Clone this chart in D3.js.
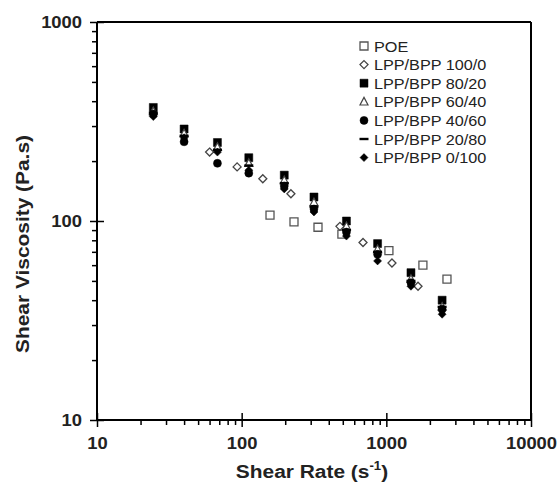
<!DOCTYPE html>
<html>
<head>
<meta charset="utf-8">
<script src="https://cdn.jsdelivr.net/npm/d3@7"></script>
<style>
  body { margin: 0; background: #fff; }
  svg { display: block; }
</style>
</head>
<body>
<div id="chart"></div>
<script>
// values (shear rate in 1/s, viscosity in Pa.s)
const poeRate = [157, 230, 337, 493, 1042, 1790, 2625];
const poeVisc = [107, 99, 93, 86, 71, 60, 51];

const lpp100Rate = [60, 93, 140, 219, 478, 690, 1094, 1656];
const lpp100Visc = [222, 187, 163, 137, 94, 78, 61.5, 47];

const blendRate = [24.5, 40, 68, 112, 197, 316, 530, 870, 1480, 2430];
const lpp80Visc = [372, 290, 248, 208, 170, 132, 100, 77, 55, 40];
const lpp60Visc = [355, 275, 235, 195, 160, 124, 94, 72, 51, 37];
const lpp40Visc = [345, 250, 195, 174, 150, 115, 88, 68, 49, 36];
const lpp20Visc = [350, 268, 228, 190, 155, 118, 90, 70, 50, 37];
const lpp0Visc = [335, 262, 222, 180, 145, 111, 84, 63, 47, 34];

const seriesNames = ["POE", "LPP/BPP 100/0", "LPP/BPP 80/20", "LPP/BPP 60/40",
  "LPP/BPP 40/60", "LPP/BPP 20/80", "LPP/BPP 0/100"];

const xMajor = [10, 100, 1000, 10000];
const yMajor = [10, 100, 1000];

const width = 560;
const height = 490;
const margin = { top: 22, right: 29, bottom: 70, left: 97 };
const plotW = width - margin.left - margin.right;
const plotH = height - margin.top - margin.bottom;
const font = "'Liberation Sans', Arial, Helvetica, sans-serif";

const svg = d3.select("#chart").append("svg")
  .attr("width", width)
  .attr("height", height);

const g = svg.append("g")
  .attr("transform", `translate(${margin.left},${margin.top})`);

const x = d3.scaleLog().domain([10, 10000]).range([0, plotW]);
const y = d3.scaleLog().domain([10, 1000]).range([plotH, 0]);

// minor ticks 2..9 inside each decade
function minors(lo, hi) {
  const out = [];
  for (let d = lo; d < hi; d *= 10)
    for (let k = 2; k <= 9; k++) out.push(d * k);
  return out;
}

// custom marker shapes
const squareShape = s => ({ draw(c) { c.rect(-s / 2, -s / 2, s, s); } });
const diamondShape = s => ({ draw(c) {
  c.moveTo(0, -s / 2); c.lineTo(s / 2, 0); c.lineTo(0, s / 2); c.lineTo(-s / 2, 0); c.closePath();
} });
const triangleShape = s => ({ draw(c) {
  c.moveTo(0, -s * 0.55); c.lineTo(s / 2, s * 0.4); c.lineTo(-s / 2, s * 0.4); c.closePath();
} });
const circleShape = s => ({ draw(c) { c.moveTo(s / 2, 0); c.arc(0, 0, s / 2, 0, 2 * Math.PI); } });
const dashShape = s => ({ draw(c) { c.rect(-s / 2, -1.2, s, 2.4); } });

const series = [
  { name: seriesNames[0], rate: poeRate, visc: poeVisc, shape: squareShape(8), fill: "#fff", stroke: "#555", sw: 1.3 },
  { name: seriesNames[1], rate: lpp100Rate, visc: lpp100Visc, shape: diamondShape(8), fill: "#fff", stroke: "#444", sw: 1.3 },
  { name: seriesNames[2], rate: blendRate, visc: lpp80Visc, shape: squareShape(8), fill: "#000", stroke: "#000", sw: 0.5 },
  { name: seriesNames[3], rate: blendRate, visc: lpp60Visc, shape: triangleShape(8), fill: "#fff", stroke: "#444", sw: 1.2 },
  { name: seriesNames[4], rate: blendRate, visc: lpp40Visc, shape: circleShape(8), fill: "#000", stroke: "#000", sw: 0.5 },
  { name: seriesNames[5], rate: blendRate, visc: lpp20Visc, shape: dashShape(9), fill: "#000", stroke: "none", sw: 0 },
  { name: seriesNames[6], rate: blendRate, visc: lpp0Visc, shape: diamondShape(8), fill: "#000", stroke: "#000", sw: 0.5 }
];

// points
series.forEach(s => {
  const pts = s.rate.map((r, i) => ({ r: r, v: s.visc[i] }));
  g.append("g").selectAll("path")
    .data(pts)
    .enter()
    .append("path")
    .attr("transform", d => `translate(${x(d.r)},${y(d.v)})`)
    .attr("d", d3.symbol().type(s.shape))
    .attr("fill", s.fill)
    .attr("stroke", s.stroke)
    .attr("stroke-width", s.sw);
});

// frame: top and right borders
g.append("line").attr("x1", 0).attr("x2", plotW).attr("y1", 0).attr("y2", 0)
  .attr("stroke", "#000").attr("stroke-width", 2);
g.append("line").attr("x1", plotW).attr("x2", plotW).attr("y1", 0).attr("y2", plotH)
  .attr("stroke", "#000").attr("stroke-width", 2);

// x axis
const xMinorAxis = g.append("g")
  .attr("transform", `translate(0,${plotH})`)
  .call(d3.axisBottom(x).tickValues(minors(10, 10000)).tickSize(5).tickFormat(""));
xMinorAxis.select(".domain").remove();
xMinorAxis.selectAll("line").attr("stroke-width", 1.5);

const xAxis = g.append("g")
  .attr("transform", `translate(0,${plotH})`)
  .call(d3.axisBottom(x).tickValues(xMajor).tickSize(7).tickPadding(11).tickFormat(d3.format("d")));
xAxis.select(".domain").attr("stroke-width", 2).attr("d", `M0,0H${plotW}`);
xAxis.selectAll("line").attr("y1", -7).attr("stroke-width", 1.5);
xAxis.selectAll("text")
  .style("font-family", font).style("font-size", "16px").style("font-weight", "bold")
  .attr("fill", "#222")
  .attr("transform", "scale(1.15,1)");

// y axis
const yMinorAxis = g.append("g")
  .call(d3.axisLeft(y).tickValues(minors(10, 1000)).tickSize(5).tickFormat(""));
yMinorAxis.select(".domain").remove();
yMinorAxis.selectAll("line").attr("stroke-width", 1.5);

const yAxis = g.append("g")
  .call(d3.axisLeft(y).tickValues(yMajor).tickSize(7).tickPadding(6).tickFormat(d3.format("d")));
yAxis.select(".domain").attr("stroke-width", 2).attr("d", `M0,0V${plotH}`);
yAxis.selectAll("line").attr("x1", 7).attr("stroke-width", 1.5);
yAxis.selectAll("text")
  .style("font-family", font).style("font-size", "16px").style("font-weight", "bold")
  .attr("fill", "#222")
  .attr("transform", "scale(1.15,1)");

// axis titles
const xTitle = svg.append("text")
  .attr("transform", `translate(${margin.left + plotW * 0.5 - 2},478) scale(1.1,1)`)
  .attr("text-anchor", "middle")
  .style("font-family", font).style("font-size", "19px").style("font-weight", "bold")
  .attr("fill", "#222");
xTitle.append("tspan").text("Shear Rate (s");
xTitle.append("tspan").attr("dy", -8).style("font-size", "12px").text("-1");
xTitle.append("tspan").attr("dy", 8).text(")");

svg.append("text")
  .attr("transform", `translate(29,${margin.top + plotH / 2 + 23}) rotate(-90) scale(1.1,1)`)
  .attr("text-anchor", "middle")
  .style("font-family", font).style("font-size", "19px").style("font-weight", "bold")
  .attr("fill", "#222")
  .text("Shear Viscosity (Pa.s)");

// legend
const legend = svg.append("g");
series.forEach((s, i) => {
  const ly = 46 + i * 18.6;
  legend.append("path")
    .attr("transform", `translate(364,${ly})`)
    .attr("d", d3.symbol().type(s.shape))
    .attr("fill", s.fill)
    .attr("stroke", s.stroke)
    .attr("stroke-width", s.sw);
  legend.append("text")
    .attr("transform", `translate(374,${ly + 5.5}) scale(1.08,1)`)
    .style("font-family", font).style("font-size", "15px")
    .attr("fill", "#222")
    .text(s.name);
});
</script>
</body>
</html>
